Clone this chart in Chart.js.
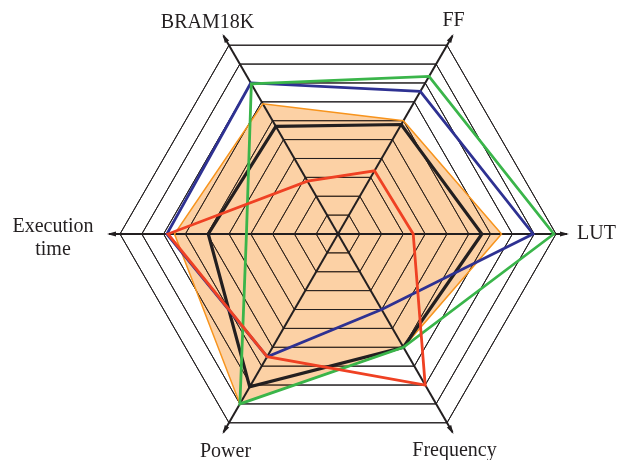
<!DOCTYPE html>
<html>
<head>
<meta charset="utf-8">
<script src="https://cdn.jsdelivr.net/npm/chart.js@4"></script>
<style>
  html, body { margin: 0; padding: 0; background: #fff; }
  #wrap { width: 627px; height: 460px; }
</style>
</head>
<body>
<div id="wrap"><canvas id="chart" width="627" height="460"></canvas></div>
<script>
// axes, clockwise starting from the right
const labels = ["LUT", "Frequency", "Power", "Execution time", "BRAM18K", "FF"];

const orangeVals = [7.5, 6.0, 9.0, 7.5, 6.9, 6.0];
const blackVals = [6.6, 6.0, 8.1, 5.95, 5.7, 5.8];
const blueVals = [8.95, 4.0, 6.5, 7.85, 8.0, 7.55];
const greenVals = [9.9, 6.0, 9.0, 4.2, 7.95, 8.35];
const redVals = [3.45, 8.0, 6.5, 7.8, 2.8, 3.35];

const scaleMax = 10;

const ink = "#231f20";

/* =========================
   LABEL PLACEMENT (offset from arrow tip)
========================= */
const labelStyle = [
  { dx: 10, dy: 0, align: "left", base: "middle" },
  { dx: 2, dy: 24, align: "center", base: "alphabetic" },
  { dx: 2, dy: 25, align: "center", base: "alphabetic" },
  { dx: -56, dy: -2, align: "center", base: "alphabetic", lines: ["Execution", "time"] },
  { dx: -16, dy: -8, align: "center", base: "alphabetic" },
  { dx: 1, dy: -10, align: "center", base: "alphabetic" },
];

const overlayPlugin = {
  id: "overlay",
  afterDatasetDraw(chart, args) {
    // grid + axes go over the filled area, under the outlines
    if (args.index !== chart.data.datasets.length - 1) return;
    const scale = chart.scales.r;
    const ctx = chart.ctx;
    scale.drawGrid();

    ctx.save();
    ctx.strokeStyle = ink;
    ctx.fillStyle = ink;
    ctx.lineWidth = 2;
    for (let i = 0; i < labels.length; i++) {
      const tip = scale.getPointPosition(i, scale.drawingArea + 11);
      ctx.beginPath();
      ctx.moveTo(scale.xCenter, scale.yCenter);
      ctx.lineTo(tip.x, tip.y);
      ctx.stroke();

      const a = Math.atan2(tip.y - scale.yCenter, tip.x - scale.xCenter);
      const len = 7, half = 2.5;
      ctx.beginPath();
      ctx.moveTo(tip.x + Math.cos(a) * 2, tip.y + Math.sin(a) * 2);
      ctx.lineTo(tip.x - Math.cos(a) * len + Math.sin(a) * half,
                 tip.y - Math.sin(a) * len - Math.cos(a) * half);
      ctx.lineTo(tip.x - Math.cos(a) * len - Math.sin(a) * half,
                 tip.y - Math.sin(a) * len + Math.cos(a) * half);
      ctx.closePath();
      ctx.fill();
    }
    ctx.restore();
  },
  afterDraw(chart) {
    const scale = chart.scales.r;
    const ctx = chart.ctx;
    ctx.save();
    ctx.fillStyle = ink;
    ctx.font = '20px "Liberation Serif", "DejaVu Serif", serif';
    labels.forEach((lab, i) => {
      const tip = scale.getPointPosition(i, scale.drawingArea + 11);
      const s = labelStyle[i];
      ctx.textAlign = s.align;
      ctx.textBaseline = s.base;
      const x = tip.x + s.dx;
      const y = tip.y + s.dy;
      if (s.lines) {
        ctx.fillText(s.lines[0], x, y);
        ctx.fillText(s.lines[1], x, y + 23);
      } else {
        ctx.fillText(lab, x, y);
      }
    });
    ctx.restore();
  },
};

function series(data, color, width) {
  return {
    data,
    borderColor: color,
    borderWidth: width,
    backgroundColor: "transparent",
    fill: false,
    pointRadius: 0,
    tension: 0,
  };
}

const chart = new Chart(document.getElementById("chart"), {
  type: "radar",
  data: {
    labels,
    datasets: [
      series(redVals, "#ef4123", 2.8),
      series(greenVals, "#3ab54a", 2.8),
      series(blueVals, "#2e3192", 2.8),
      series(blackVals, ink, 3.2),
      series(orangeVals, "#f7941d", 1.5),
      {
        data: orangeVals,
        borderWidth: 0,
        backgroundColor: "rgba(247,146,40,0.42)",
        fill: true,
        pointRadius: 0,
      },
    ],
  },
  options: {
    responsive: false,
    animation: false,
    layout: { padding: { top: 16, bottom: 8, left: 49, right: 0 } },
    plugins: {
      legend: { display: false },
      tooltip: { enabled: false },
    },
    scales: {
      r: {
        min: 0,
        max: scaleMax,
        startAngle: 90,
        ticks: { display: false, stepSize: 1 },
        grid: { circular: false, color: ink, lineWidth: 1 },
        angleLines: { display: false },
        pointLabels: { display: false },
      },
    },
  },
  plugins: [overlayPlugin],
});
</script>
</body>
</html>
